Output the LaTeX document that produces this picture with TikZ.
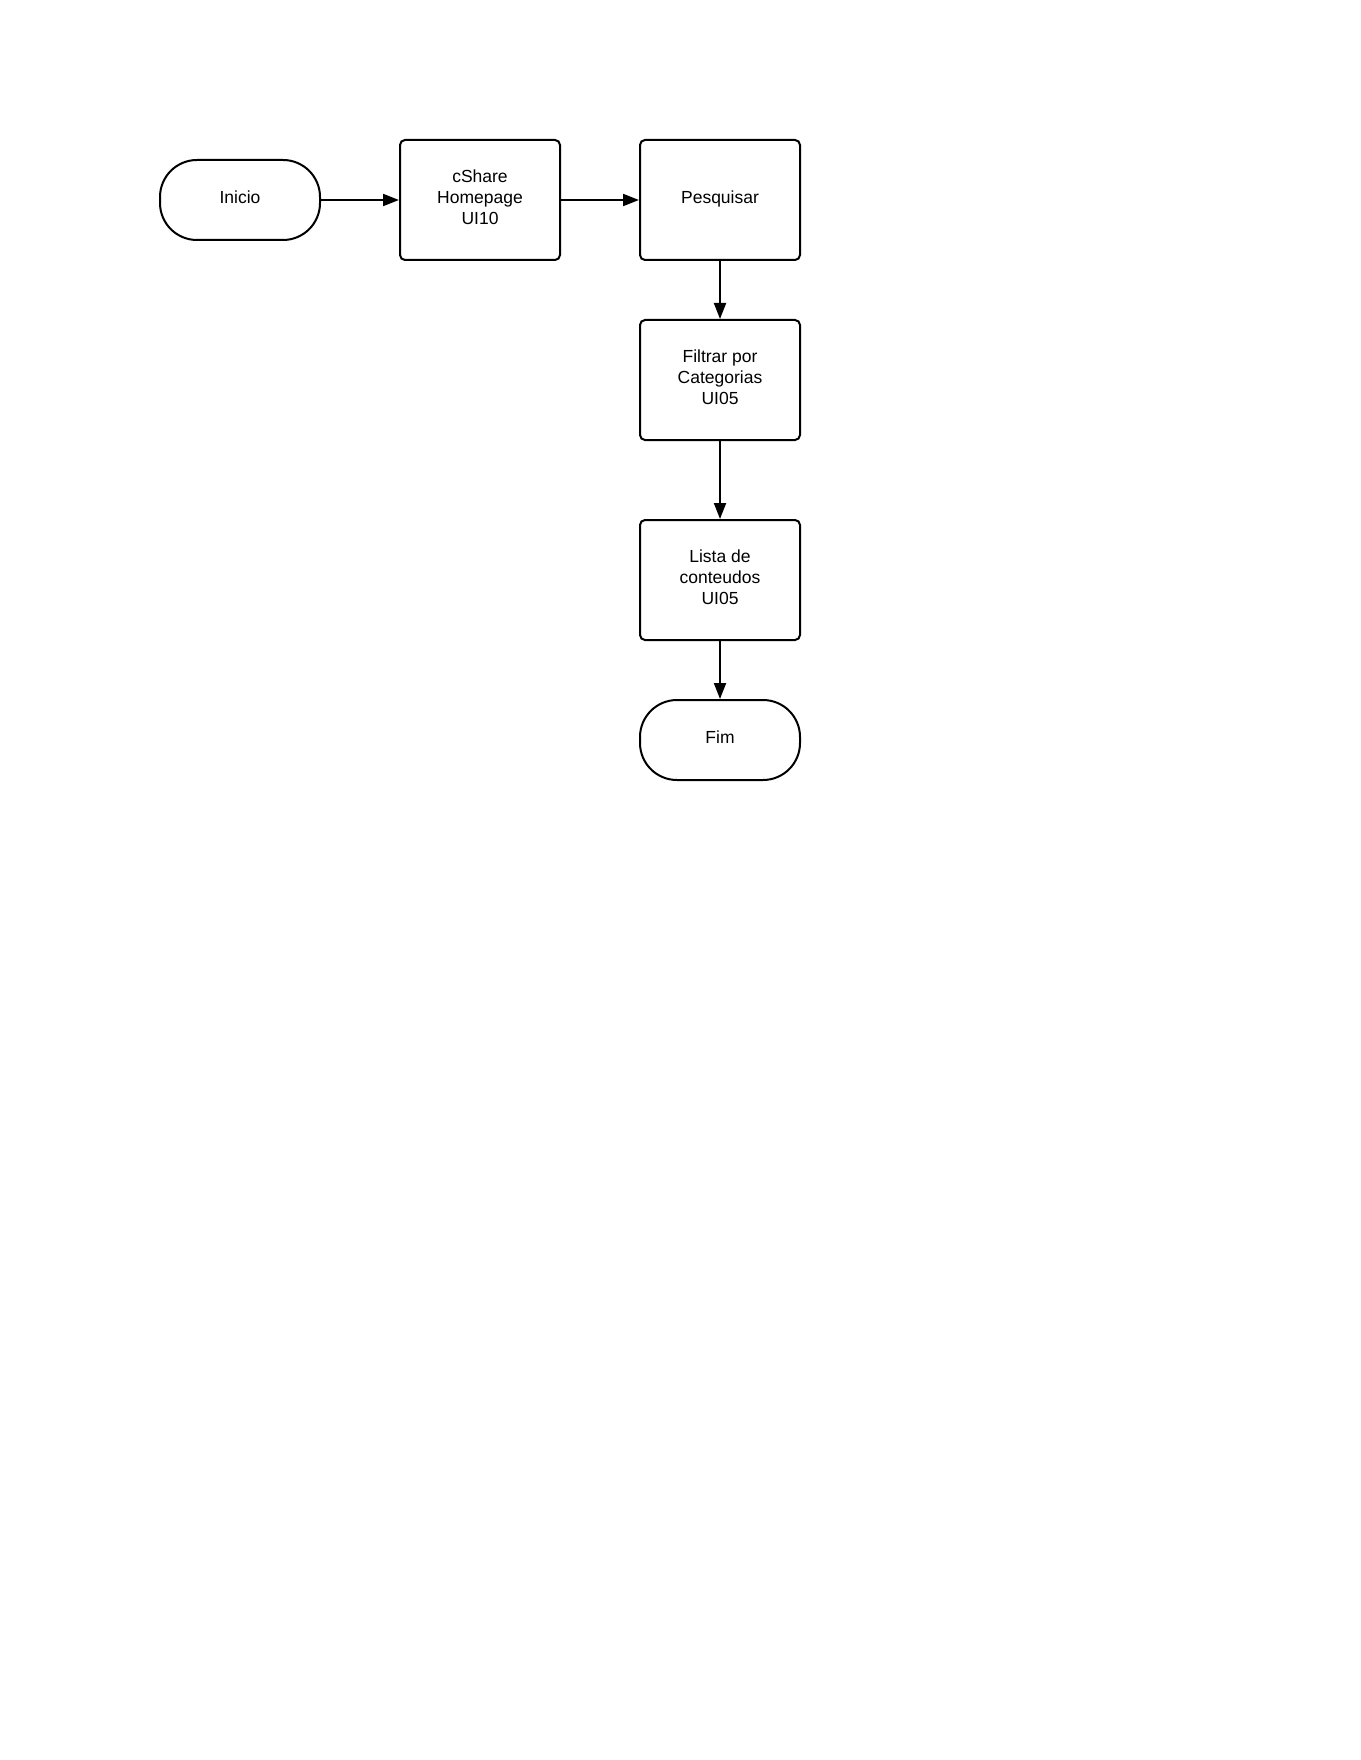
\documentclass[tikz,border=0pt]{standalone}
\usepackage{fontspec}
\setmainfont{Liberation Sans}
\usetikzlibrary{arrows.meta}
\begin{document}
\begin{tikzpicture}[x=1pt,y=-1pt,
  base/.style={draw=black,line width=2pt,fill=white,minimum width=160pt,align=center,
    font=\fontsize{17.5}{21}\selectfont,inner sep=0pt,text depth=6pt},
  proc/.style={base,minimum height=120pt,rounded corners=5pt},
  term/.style={base,minimum height=80pt,rounded corners=37pt},
  flow/.style={draw=black,line width=2pt,-{Triangle[length=16pt,width=12pt]}}]
\useasboundingbox (0,0) rectangle (1360,1760);
\fill[white] (0,0) rectangle (1360,1760);
\node[term] (inicio) at (240,200) {Inicio};
\node[proc] (cshare) at (480,200) {cShare\\Homepage\\UI10};
\node[proc] (pesq) at (720,200) {Pesquisar};
\node[proc] (filtrar) at (720,380) {Filtrar por\\Categorias\\UI05};
\node[proc] (lista) at (720,580) {Lista de\\conteudos\\UI05};
\node[term] (fim) at (720,740) {Fim};
\draw[flow] (inicio) -- (cshare);
\draw[flow] (cshare) -- (pesq);
\draw[flow] (pesq) -- (filtrar);
\draw[flow] (filtrar) -- (lista);
\draw[flow] (lista) -- (fim);
\end{tikzpicture}
\end{document}
